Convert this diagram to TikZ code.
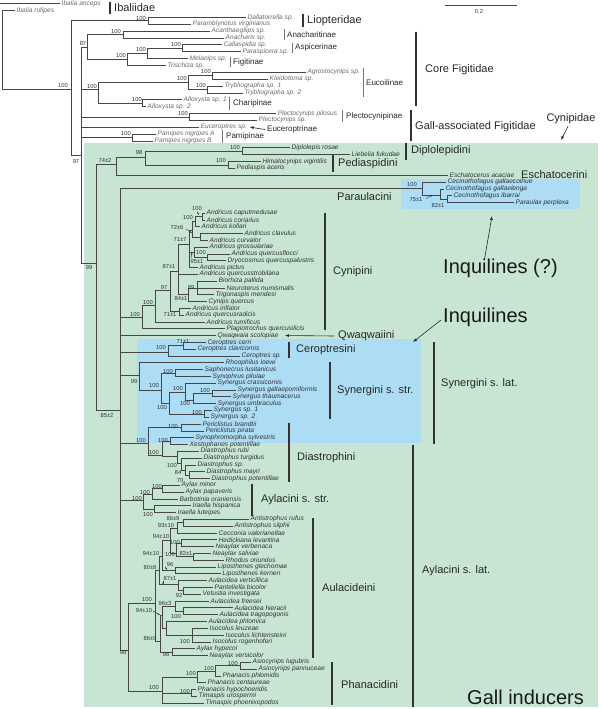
\documentclass[tikz,border=0pt]{standalone}
\usepackage{fontspec}
\setmainfont{Liberation Sans}
\usetikzlibrary{arrows.meta}
\definecolor{gallgreen}{RGB}{200,229,211}
\definecolor{inqblue}{RGB}{172,221,245}
\definecolor{branch}{RGB}{70,70,70}
\definecolor{figgray}{RGB}{105,105,105}
\definecolor{cyngray}{RGB}{50,50,55}

\begin{document}
\begin{tikzpicture}[x=1pt,y=-1pt,
	br/.style={draw=branch,line width=0.55pt},
	fleaf/.style={anchor=west,inner xsep=1.5pt,inner ysep=0pt,text=figgray,font=\fontsize{6.6}{7}\selectfont\itshape},
	cleaf/.style={fleaf,text=cyngray},
	bs/.style={inner sep=0pt,text=cyngray,font=\fontsize{5.8}{6}\selectfont},
	sub/.style={anchor=west,inner sep=0pt,text=black!85,font=\fontsize{8}{9}\selectfont},
	grp/.style={anchor=west,inner sep=0pt,text=black!85,font=\fontsize{11}{12}\selectfont},
	big/.style={anchor=west,inner sep=0pt,text=black!90,font=\fontsize{20}{22}\selectfont},
	bar/.style={draw=black!80,line width=1.1pt},
	thinbar/.style={draw=black!55,line width=0.6pt},
	arr/.style={draw=black!85,line width=0.6pt,-{Latex[length=4pt,width=3pt]}},
	tinyarr/.style={draw=black!85,line width=0.4pt,-{Latex[length=2pt,width=1.6pt]}}]
	\useasboundingbox (0,0) rectangle (600,709);
	% shaded groups
	\fill[gallgreen] (84,143) rectangle (598,707);
	\fill[inqblue] (401,179) rectangle (580,209);
	\fill[inqblue] (137,339) rectangle (421,443);
	% scale bar
	\draw[br] (445,5) -- (517,5);
	\node[bs] (scl) at (479,12) {0.2};

	% tips: Ibaliidae and Figitidae
	\foreach \nm/\tx/\lab [count=\k from 0] in {ian/60/Ibalia anceps, iru/15/Ibalia rufipes,
		dal/246/Dallatorrella sp., pbl/191/Paramblynotus virginianus, aca/210/Acanthaegilips sp.,
		ana/224/Anacharis sp., cal/222/Callaspidia sp., pas/241/Paraspicera sp., mel/188/Melanips sp.,
		tri/166/Trischiza sp., agr/306/Agrostocynips sp., kle/268/Kleidotoma sp., ty1/223/Trybliographa sp. 1,
		ty2/243/Trybliographa sp. 2, al1/182/Alloxysta sp. 1, al2/146/Alloxysta sp. 2,
		plp/276/Plectocynips pilosus, pls/257/Plectocynips sp., eus/199/Euceroptres sp.,
		pna/156/Pamipes nigripes A, pnb/153/Pamipes nigripes B}
		\node[fleaf] (\nm) at (\tx,3.6+6.86*\k) {\lab};
	% tips: early Cynipidae
	\foreach \nm/\tx/\lab [count=\k from 21] in {dro/290/Diplolepis rosae, lfu/350/Liebelia fukudae,
		hvi/261/Himalocynips vigintilis, pac/235/Pediaspis aceris, eac/448/Eschatocerus acaciae,
		cgc/446/Cecinothofagus gallaecoihue, cgl/444/Cecinothofagus gallaelenga,
		cib/452/Cecinothofagus ibarrai, ppx/514/Paraulax perplexa}
		\node[cleaf] (\nm) at (\tx,3.6+6.86*\k) {\lab};
	% tips: the rest
	\foreach \nm/\tx/\lab [count=\k from 0] in {acm/205/Andricus caputmedusae, aco/205/Andricus coriarius,
		ako/200/Andricus kollari, acl/243/Andricus clavulus, acu/208/Andricus curvator,
		agro/208/Andricus grossulariae, aqf/230/Andricus quercusflocci, dqp/226/Dryocosmus quercuspalustris,
		api/198/Andricus pictus, aqs/198/Andricus quercusstrobilana, bpa/217/Biorhiza pallida,
		nnu/225/Neuroterus numismalis, tme/214/Trigonaspis mendesi, cqu/207/Cynips quercus,
		ain/191/Andricus inflator, aqr/184/Andricus quercusradicis, atu/205/Andricus tumificus,
		pqi/225/Plagiotrochus quercusilicis, qsc/216/Qwaqwaia scolopiae, cce/206/Ceroptres cerri,
		ccl/196/Ceroptres clavicornis, csp/240/Ceroptres sp., rlo/224/Rhoophilus loewi,
		slu/203/Saphonecrus lusitanicus, spi/211/Synophrus pilulae, scr/216/Synergus crassicornis,
		sga/236/Synergus gallaepomiformis, sth/231/Synergus thaumacerus, sum/216/Synergus umbraculus,
		ss1/212/Synergus sp. 1, ss2/209/Synergus sp. 2, pbr/201/Periclistus brandtii,
		ppi/204/Periclistus pirata, ssy/194/Synophromorpha sylvestris, xpo/188/Xestophanes potentillae,
		dru/199/Diastrophus rubi, dtu/202/Diastrophus turgidus, dsp/196/Diastrophus sp.,
		dma/205/Diastrophus mayri, dpo/210/Diastrophus potentillae, ami/180/Aylax minor,
		apa/184/Aylax papaveris, bor/178/Barbotinia oraniensis, ihi/191/Iraella hispanica,
		ilu/176/Iraella luteipes, aru/249/Antistrophus rufus, asi/233/Antistrophus silphii,
		cva/217/Cecconia valerianellae, hle/217/Hedickiana levantina, nve/214/Neaylax verbenaca,
		nsa/211/Neaylax salviae, ror/224/Rhodus oriundus, lgl/216/Liposthenes glechomae,
		lke/221/Liposthenes kerneri, ave/207/Aulacidea verticillica, pbi/213/Panteliella bicolor,
		vin/201/Vetustia investigata, afr/209/Aulacidea freesei, ahi/233/Aulacidea hieracii,
		atr/218/Aulacidea tragopogonis, aph/207/Aulacidea phlomica, ile/208/Isocolus leuzeae,
		ili/224/Isocolus lichtensteini, iro/211/Isocolus rogenhoferi, ahy/195/Aylax hypecoi,
		nvs/208/Neaylax versicolor, alu/251/Asiocynips lugubris, apn/257/Asiocynips pannuceae,
		pph/221/Phanacis phlomidis, pce/206/Phanacis centaureae, phy/196/Phanacis hypochoeridis,
		tur/197/Timaspis urospermi, tph/204/Timaspis phoenixopodos}
		\node[cleaf] (\nm) at (\tx,213+6.806*\k) {\lab};

	% inner nodes
	\coordinate (ianroot) at (0,3.6);
	\foreach \nm/\x/\y in {root/2/10.46, nA/71/89, liop/148/20.75, nB/81/155, core/87.5/47,
		anach/123/34.47, asfi/127/59, asme/147/53, aspic/182/48.19, eucch/98/89, eucoi/188/82,
		agkl/212/75.63, tryb/207/89.35, chari/142/103.07, plect/189/116.79, pamip/132/137.37,
		cyn/96/263, c74/116/164, c98/145/157, dipl/242/151.09, pedi/228/164.81, cD/120/410,
		paul/422/188, paQ/440/195, paR/447/199.11,
		cyni/142/317, cy100b/155/305, cy97/170/290, cy71b/179/311.7, cy87/178/271, cy84/188/294,
		cy89/197/287.9, cy71/189/244, cy72/192/230, cy100a/195/221.7, cy100/202/216.4,
		cycc/200/236.8, cy95/194/252, cyqd/207/257.2, cero/168/352, cer71/183/345.7,
		syn99/139/375, sy161/161/390, sysa/175/372.9, sy169/169/403, sy185/185/392,
		sy193/193/400, sygt/212/393.4, sysp/204/413.8,
		dia/148/443, peri/181/427.4, di100/162/455, dsx/170/441, dias/177/456, di84/181/463,
		di70/185/470, dimp/189/475, ayl/143/500, ay100b/152/494, aymp/162/488.6, iral/154/509.1,
		cE/128/650, aul/155/603, au80/159/570, au94b/162/556, au94a/170/540, au93/177/528,
		au86a/183/522.7, au100r/176/553, au100h/181/543.1, au82/193/556.7, aulip/175/570.3,
		au87/178/584, au92/183/590.7, au86/160/641, au94c/162/615, au96/175/606, auht/183/611.1,
		aupi/166/628, auiso/192/635, au98/172/651.9,
		pha/162/691, ph197/197/677, ph215/215/671, phas/240/665.6, phhu/191/692.8}
		\coordinate (\nm) at (\x,\y);

	% branches
	\draw[br] (ianroot) -- (ian.west);
	\foreach \p/\c in {root/iru.west, root/nA, nA/liop, nA/nB, liop/dal.west, liop/pbl.west,
		nB/core, nB/eucch, nB/plect, nB/eus.west, nB/pamip, nB/cyn,
		core/anach, core/asfi, anach/aca.west, anach/ana.west, asfi/asme, asfi/tri.west,
		asme/aspic, asme/mel.west, aspic/cal.west, aspic/pas.west,
		eucch/eucoi, eucch/chari, eucoi/agkl, eucoi/tryb, agkl/agr.west, agkl/kle.west,
		tryb/ty1.west, tryb/ty2.west, chari/al1.west, chari/al2.west,
		plect/plp.west, plect/pls.west, pamip/pna.west, pamip/pnb.west,
		cyn/c74, cyn/cD, c74/c98, c74/eac.west, c98/dipl, c98/pedi,
		dipl/dro.west, dipl/lfu.west, pedi/hvi.west, pedi/pac.west,
		cD/paul, cD/cyni, cD/qsc.west, cD/cero, cD/syn99, cD/dia, cD/ayl, cD/cE,
		paul/cgc.west, paul/paQ, paQ/cgl.west, paQ/paR, paR/cib.west, paR/ppx.west,
		cyni/cy100b, cyni/pqi.west, cy100b/cy97, cy100b/atu.west, cy97/cy87, cy97/cy71b,
		cy71b/ain.west, cy71b/aqr.west, cy87/cy71, cy87/aqs.west, cy87/cy84,
		cy84/cy89, cy84/cqu.west, cy89/bpa.west, cy89/nnu.west, cy89/tme.west,
		cy71/cy72, cy71/cy95, cy71/api.west, cy72/cy100a, cy72/cycc,
		cy100a/cy100, cy100a/ako.west, cy100/acm.west, cy100/aco.west,
		cycc/acl.west, cycc/acu.west, cy95/agro.west, cy95/cyqd, cyqd/aqf.west, cyqd/dqp.west,
		cero/cer71, cero/csp.west, cer71/cce.west, cer71/ccl.west,
		syn99/rlo.west, syn99/sy161, sy161/sysa, sy161/sy169, sysa/slu.west, sysa/spi.west,
		sy169/sy185, sy169/sysp, sy185/scr.west, sy185/sy193, sy193/sygt, sy193/sum.west,
		sygt/sga.west, sygt/sth.west, sysp/ss1.west, sysp/ss2.west,
		dia/peri, dia/di100, peri/pbr.west, peri/ppi.west, di100/dsx, di100/dias,
		dsx/ssy.west, dsx/xpo.west, dias/dru.west, dias/di84, di84/dtu.west, di84/di70,
		di70/dsp.west, di70/dimp, dimp/dma.west, dimp/dpo.west,
		ayl/ay100b, ayl/iral, ay100b/aymp, ay100b/bor.west, aymp/ami.west, aymp/apa.west,
		iral/ihi.west, iral/ilu.west,
		cE/aul, cE/pha, aul/au80, aul/au86, au80/au94b, au80/au87, au94b/au94a, au94b/aulip,
		au94a/au93, au94a/au100r, au93/au86a, au93/cva.west, au86a/aru.west, au86a/asi.west,
		au100r/au100h, au100r/au82, au100h/hle.west, au100h/nve.west, au82/nsa.west, au82/ror.west,
		aulip/lgl.west, aulip/lke.west, au87/ave.west, au87/au92, au92/pbi.west, au92/vin.west,
		au86/au94c, au86/au98, au94c/au96, au94c/aupi, au96/afr.west, au96/auht,
		auht/ahi.west, auht/atr.west, aupi/aph.west, aupi/auiso,
		auiso/ile.west, auiso/ili.west, auiso/iro.west, au98/ahy.west, au98/nvs.west,
		pha/ph197, pha/phhu, pha/tph.west, ph197/ph215, ph197/pce.west,
		ph215/phas, ph215/pph.west, phas/alu.west, phas/apn.west, phhu/phy.west, phhu/tur.west}
		\draw[br] (\p) |- (\c);

	% support values
	\foreach \x/\y/\lab [count=\i] in {63/86/100, 141/18.5/100, 83/43.5/87, 116/31.5/100,
		121/56/100, 141/50/100, 176/45/100, 92/86.5/100, 182/79/100, 206/72/100, 201/86/100,
		137/100/100, 183/113.5/100, 126/134/100, 76/161.5/97, 89/268/99, 105/160/74±2,
		139/153/98, 235/147.5/100, 221/160.5/100, 107/415/85±2, 412/184.5/100, 416/199.5/75±1,
		438/205.5/82±1,
		197/209/100, 188/218/100, 177/228/72±6, 180/240/71±7, 201/253/100, 197/262/95±1,
		169/267/87±1, 191/287/89, 181/298/84±1, 164/287/97, 148/303/100, 170/315/71±1,
		135/315/100, 183/342/71±1, 161/347/100,
		134/381/99, 168/371/100, 154/385/100, 178/388/100, 205/390/100, 185/403/100,
		162/407/100, 197/412/100,
		141/440/100, 173/426/100, 163/440/100, 154/452/100, 172/465/100, 178/472/84, 180/480/70,
		157/486/100, 145/492/100, 137/498/100, 148/514/100,
		173/518/86±9, 166/525/93±10, 161/536/94±10, 175/542/100, 186/553/82±1, 170/554/100,
		151/553/94±10, 170/564/96, 150/567/80±8, 170/578/87±1, 179/595/92, 147/599/100,
		165/603/96±3, 176/616/100, 144/610/94±10, 185/641/100, 150/638/86±9, 166/654/98,
		123/652/98,
		233/663/100, 209/668/100, 191/673/100, 185/691/100, 154/687/100}
		\node[bs] (s\i) at (\x,\y) {\lab};
	% small pointers from support values
	\draw[tinyarr] (197,211.5) -- (199,215);
	\draw[tinyarr] (186,229) -- (192,233);
	\draw[tinyarr] (191,258) -- (192,252.5);
	\draw[tinyarr] (165,566.5) -- (167,570);
	\draw[tinyarr] (163,580.5) -- (163,585);
	\draw[tinyarr] (153,611) -- (160,615);
	\draw[tinyarr] (426,198.5) -- (433,195);

	% group labels
	\draw[bar] (110,2) -- (110,14);
	\node[grp] (ibal) at (114,7.5) {Ibaliidae};
	\draw[bar] (303,14) -- (303,27);
	\node[grp] (liopl) at (307,21) {Liopteridae};
	\draw[thinbar] (284,29) -- (284,40);
	\node[sub] (anacl) at (287,35) {Anacharitinae};
	\draw[thinbar] (292,43) -- (292,53);
	\node[sub] (aspil) at (295,47.5) {Aspicerinae};
	\draw[thinbar] (230,57) -- (230,67);
	\node[sub] (figil) at (233,62) {Figitinae};
	\draw[thinbar] (363,68) -- (363,97);
	\node[sub] (eucol) at (366,83) {Eucoilinae};
	\draw[thinbar] (229,97) -- (229,110);
	\node[sub] (charl) at (233,103.5) {Charipinae};
	\draw[thinbar] (342,110) -- (342,122);
	\node[sub] (plecl) at (346,116.5) {Plectocynipinae};
	\node[sub] (eucrl) at (267,129.5) {Euceroptrinae};
	\draw[arr] ([xshift=-2pt]eucrl.west) -- ([xshift=1pt]eus.east);
	\draw[thinbar] (222,130) -- (222,143);
	\node[sub] (pamil) at (226,136.5) {Pamipinae};
	\draw[bar] (416,32) -- (416,106);
	\node[grp] (corel) at (425,70) {Core Figitidae};
	\draw[bar] (411,110) -- (411,141);
	\node[grp] (galll) at (415,127) {Gall-associated Figitidae};
	\node[grp,anchor=center] (cynl) at (571,119) {Cynipidae};
	\coordinate (cyntip) at (561,140);
	\draw[arr] ([xshift=-3pt,yshift=-2pt]cynl.south) -- (cyntip);
	\draw[bar] (406,143) -- (406,160);
	\node[grp] (dipll) at (411,150.5) {Diplolepidini};
	\draw[bar] (333,155) -- (333,172);
	\node[grp] (pedil) at (338,163.5) {Pediaspidini};
	\node[grp] (eschl) at (521,174.5) {Eschatocerini};
	\node[grp] (paraul) at (337,196.5) {Paraulacini};
	\node[big] (inqq) at (443,268) {Inquilines (?)};
	\coordinate (inqqtip) at (492,216);
	\draw[arr] ([xshift=-16pt,yshift=-1pt]inqq.north) -- (inqqtip);
	\node[big] (inql) at (443,317) {Inquilines};
	\coordinate (inqtip) at (413,342);
	\draw[arr] ([xshift=-2pt,yshift=-3pt]inql.west) -- (inqtip);
	\draw[bar] (325,213) -- (325,330);
	\node[grp] (cynil) at (333,272) {Cynipini};
	\node[grp] (qwal) at (338,336) {Qwaqwaiini};
	\draw[arr] ([xshift=-4pt]qwal.west) -- ([xshift=5pt]qsc.east);
	\draw[bar] (289,342) -- (289,358);
	\node[grp] (cerol) at (296,349.5) {Ceroptresini};
	\draw[bar] (330,362) -- (330,419);
	\node[grp] (synsl) at (337,390.5) {Synergini s. str.};
	\draw[bar] (434,342) -- (434,444);
	\node[grp] (synll) at (441,383.5) {Synergini s. lat.};
	\draw[bar] (289,423) -- (289,482);
	\node[grp] (diasl) at (297,457.5) {Diastrophini};
	\draw[bar] (252,484) -- (252,516);
	\node[grp] (aylsl) at (261,499.5) {Aylacini s. str.};
	\draw[bar] (313,518) -- (313,658);
	\node[grp] (aulal) at (322,587.5) {Aulacideini};
	\draw[bar] (413,445) -- (413,707);
	\node[grp] (ayll) at (422,570.5) {Aylacini s. lat.};
	\draw[bar] (332,662) -- (332,705);
	\node[grp] (phanl) at (341,684.5) {Phanacidini};
	\node[big] (galli) at (467,697) {Gall inducers};
\end{tikzpicture}
\end{document}
